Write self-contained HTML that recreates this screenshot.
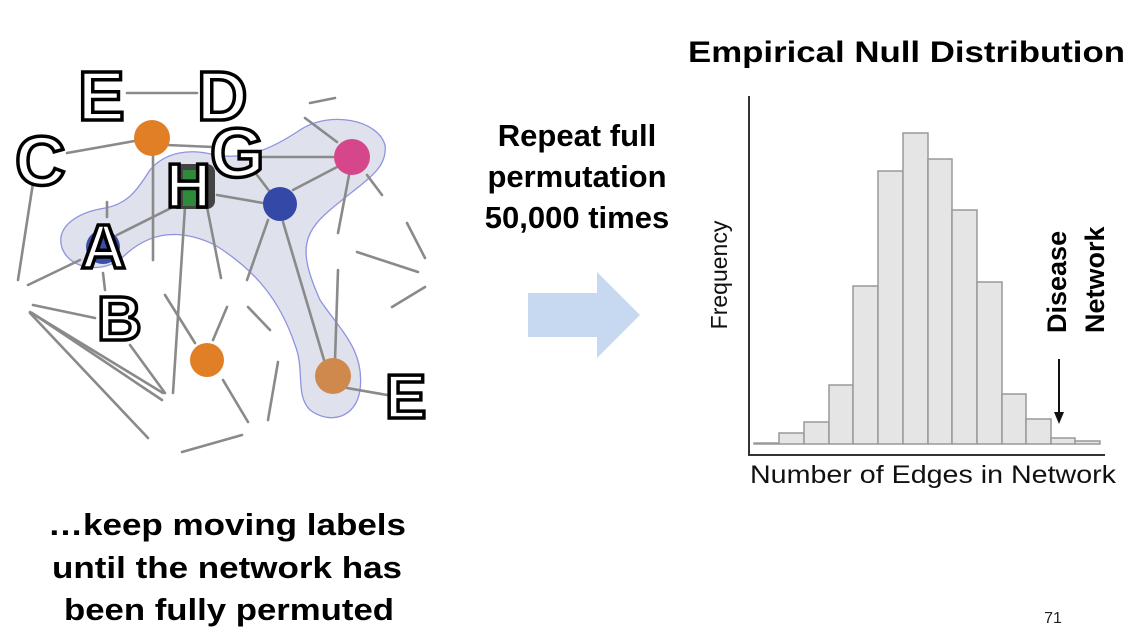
<!DOCTYPE html>
<html><head><meta charset="utf-8"><style>
html,body{margin:0;padding:0;background:#fff;}
svg{display:block;}
text{font-family:"Liberation Sans",Arial,sans-serif;}
.b{font-weight:bold;fill:#000;}
.lab{font-weight:bold;font-size:70px;fill:#fff;stroke:#000;stroke-width:3.5;}
.ln{stroke:#8a8a8a;stroke-width:2.6;stroke-linecap:round;}
.bar{fill:#e5e5e5;stroke:#999;stroke-width:1.5;}
</style></head><body>
<svg width="1128" height="640" viewBox="0 0 1128 640" xmlns="http://www.w3.org/2000/svg">
<path d="M62,248 C55,225 80,212 105,208 C130,204 140,185 150,170 C165,152 190,148 215,155 C245,160 270,150 300,130 C330,110 378,120 385,145 C388,170 365,180 330,210 C300,235 300,255 320,300 C340,330 365,350 360,390 C356,418 330,425 310,410 C295,395 305,370 295,345 C280,300 255,270 215,245 C180,228 150,232 125,255 C105,275 70,270 62,248 Z" fill="#dfe2ec" stroke="#8f93e0" stroke-width="1.3"/>
<g class="ln">
<line x1="127" y1="93" x2="197" y2="93"/>
<line x1="310" y1="103" x2="335" y2="98"/>
<line x1="305" y1="118" x2="337" y2="142"/>
<line x1="67" y1="153" x2="140" y2="140"/>
<line x1="167" y1="145" x2="213" y2="147"/>
<line x1="260" y1="157" x2="333" y2="157"/>
<line x1="337" y1="167" x2="293" y2="190"/>
<line x1="367" y1="175" x2="382" y2="195"/>
<line x1="350" y1="170" x2="338" y2="233"/>
<line x1="257" y1="175" x2="270" y2="192"/>
<line x1="217" y1="195" x2="263" y2="203"/>
<line x1="153" y1="150" x2="153" y2="260"/>
<line x1="33" y1="183" x2="18" y2="280"/>
<line x1="117" y1="235" x2="173" y2="207"/>
<line x1="107" y1="202" x2="107" y2="217"/>
<line x1="80" y1="260" x2="28" y2="285"/>
<line x1="185" y1="207" x2="173" y2="393"/>
<line x1="207" y1="207" x2="221" y2="278"/>
<line x1="268" y1="220" x2="247" y2="280"/>
<line x1="283" y1="222" x2="327" y2="370"/>
<line x1="338" y1="270" x2="335" y2="360"/>
<line x1="347" y1="388" x2="387" y2="395"/>
<line x1="407" y1="223" x2="425" y2="258"/>
<line x1="357" y1="252" x2="418" y2="272"/>
<line x1="392" y1="307" x2="425" y2="287"/>
<line x1="103" y1="273" x2="105" y2="290"/>
<line x1="33" y1="305" x2="95" y2="318"/>
<line x1="30" y1="312" x2="163" y2="393"/>
<line x1="32" y1="313" x2="162" y2="400"/>
<line x1="30" y1="313" x2="148" y2="438"/>
<line x1="130" y1="345" x2="165" y2="393"/>
<line x1="165" y1="295" x2="195" y2="343"/>
<line x1="213" y1="340" x2="227" y2="307"/>
<line x1="223" y1="380" x2="248" y2="422"/>
<line x1="248" y1="307" x2="270" y2="330"/>
<line x1="278" y1="362" x2="268" y2="420"/>
<line x1="182" y1="452" x2="242" y2="435"/>
</g>
<circle cx="152" cy="138" r="18" fill="#e07f25"/>
<circle cx="352" cy="157" r="18" fill="#d5478a"/>
<circle cx="280" cy="204" r="17" fill="#3448a8"/>
<circle cx="103" cy="247" r="17" fill="#3a4fa8"/>
<circle cx="207" cy="360" r="17" fill="#e07f25"/>
<circle cx="333" cy="376" r="18" fill="#d0894d"/>
<rect x="170" y="164" width="45" height="45" rx="8" fill="#444"/>
<rect x="183" y="170" width="17" height="36" fill="#2e8b3a"/>
<text class="lab" x="78" y="120">E</text>
<text class="lab" x="197" y="120">D</text>
<text class="lab" x="15" y="185">C</text>
<text class="lab" x="210" y="177">G</text>
<text class="lab" x="166" y="207" style="font-size:62px">H</text>
<text class="lab" x="81" y="268" style="font-size:62px">A</text>
<text class="lab" x="97" y="340" style="font-size:62px">B</text>
<text class="lab" x="385" y="418" style="font-size:62px">E</text>
<g class="b" font-size="31">
<text x="48" y="535" textLength="358" lengthAdjust="spacingAndGlyphs">…keep moving labels</text>
<text x="52" y="578" textLength="350" lengthAdjust="spacingAndGlyphs">until the network has</text>
<text x="64" y="620" textLength="330" lengthAdjust="spacingAndGlyphs">been fully permuted</text>
</g>
<g class="b" font-size="31" text-anchor="middle">
<text x="577" y="146">Repeat full</text>
<text x="577" y="187">permutation</text>
<text x="577" y="228">50,000 times</text>
</g>
<polygon points="528,293 597,293 597,272 640,315 597,358 597,337 528,337" fill="#c6d9f0"/>
<text class="b" font-size="30" x="688" y="62" textLength="437" lengthAdjust="spacingAndGlyphs">Empirical Null Distribution</text>
<g>
<rect class="bar" x="754" y="443" width="25" height="1"/>
<rect class="bar" x="779" y="433" width="25" height="11"/>
<rect class="bar" x="804" y="422" width="25" height="22"/>
<rect class="bar" x="829" y="385" width="24" height="59"/>
<rect class="bar" x="853" y="286" width="25" height="158"/>
<rect class="bar" x="878" y="171" width="25" height="273"/>
<rect class="bar" x="903" y="133" width="25" height="311"/>
<rect class="bar" x="928" y="159" width="24" height="285"/>
<rect class="bar" x="952" y="210" width="25" height="234"/>
<rect class="bar" x="977" y="282" width="25" height="162"/>
<rect class="bar" x="1002" y="394" width="24" height="50"/>
<rect class="bar" x="1026" y="419" width="25" height="25"/>
<rect class="bar" x="1051" y="438" width="24" height="6"/>
<rect class="bar" x="1075" y="441" width="25" height="3"/>
</g>
<line x1="749" y1="96" x2="749" y2="455" stroke="#333" stroke-width="2"/>
<line x1="748" y1="455" x2="1105" y2="455" stroke="#333" stroke-width="2"/>
<line x1="1059" y1="359" x2="1059" y2="414" stroke="#111" stroke-width="2"/>
<polygon points="1054,412 1064,412 1059,424" fill="#111"/>
<text x="750" y="483" font-size="25" fill="#111" textLength="366" lengthAdjust="spacingAndGlyphs">Number of Edges in Network</text>
<text transform="translate(727,275) rotate(-90)" font-size="23" text-anchor="middle" fill="#111">Frequency</text>
<text class="b" transform="translate(1066,333) rotate(-90)" font-size="27">Disease</text>
<text class="b" transform="translate(1104,333) rotate(-90)" font-size="27">Network</text>
<text x="1053" y="623" font-size="16" text-anchor="middle" fill="#222">71</text>
</svg>
</body></html>
